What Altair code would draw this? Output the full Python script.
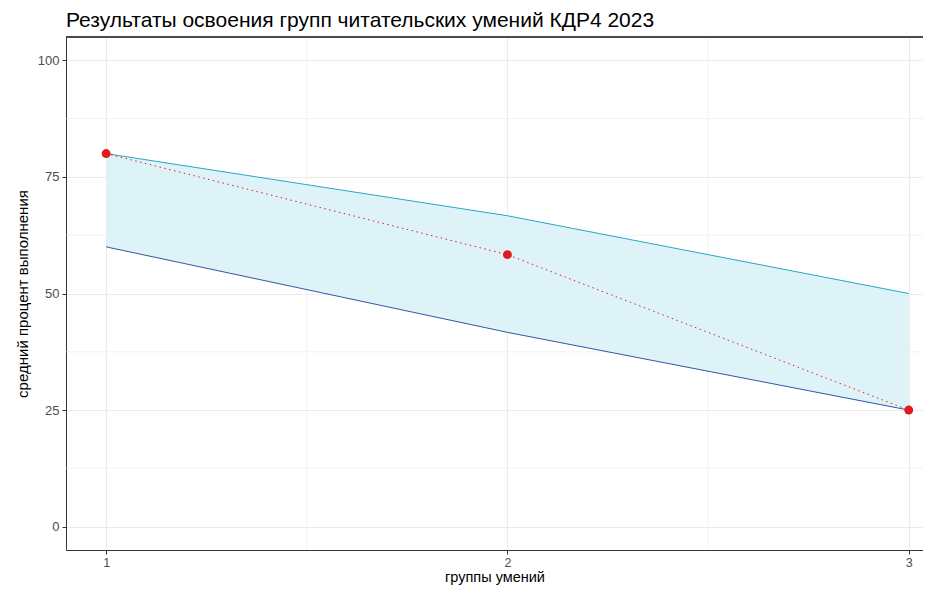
import altair as alt
import pandas as pd

groups = [1, 2, 3]
upper = [80, 66.67, 50]
lower = [60, 41.67, 25]
result = [80, 58.33, 25]

x_minor = [1.5, 2.5]
y_minor = [12.5, 37.5, 62.5, 87.5]

df = pd.DataFrame({"g": groups, "upper": upper, "lower": lower, "res": result})

W = 857
H = 513
xs = alt.Scale(domain=[0.9, 0.9 + W / 401.3], nice=False, zero=False)
ys = alt.Scale(domain=[-5, 105], nice=False, zero=False)

xmin = pd.DataFrame({"v": x_minor})
ymin = pd.DataFrame({"v": y_minor})

grid_x = alt.Chart(xmin).mark_rule(color="#EBEBEB", strokeWidth=0.6).encode(
    x=alt.X("v:Q", scale=xs))
grid_y = alt.Chart(ymin).mark_rule(color="#EBEBEB", strokeWidth=0.6).encode(
    y=alt.Y("v:Q", scale=ys))

base = alt.Chart(df)

band = base.mark_area(color="#DDF3F8", opacity=1).encode(
    x=alt.X("g:Q", scale=xs,
            axis=alt.Axis(values=[1, 2, 3], title="группы умений", format="d",
                          grid=True, gridColor="#EBEBEB", gridWidth=1.1,
                          domainColor="#333333", domainWidth=1,
                          tickColor="#333333", tickSize=4,
                          labelColor="#4D4D4D", labelFontSize=12.5, labelPadding=2,
                          titleFontSize=14.5, titleColor="#000000",
                          titleFontWeight="normal", titlePadding=2)),
    y=alt.Y("lower:Q", scale=ys,
            axis=alt.Axis(values=[0, 25, 50, 75, 100], title="средний процент выполнения",
                          grid=True, gridColor="#EBEBEB", gridWidth=1.1,
                          domainColor="#333333", domainWidth=1,
                          tickColor="#333333", tickSize=4,
                          labelColor="#4D4D4D", labelFontSize=13, labelPadding=3,
                          titleFontSize=15, titleColor="#000000",
                          titleFontWeight="normal", titlePadding=7)),
    y2="upper:Q",
)

upper_line = base.mark_line(color="#2AA6C6", strokeWidth=1).encode(
    x=alt.X("g:Q", scale=xs), y=alt.Y("upper:Q", scale=ys))
lower_line = base.mark_line(color="#3556A3", strokeWidth=1).encode(
    x=alt.X("g:Q", scale=xs), y=alt.Y("lower:Q", scale=ys))
res_line = base.mark_line(color="#E31A1C", strokeWidth=1, strokeDash=[1.5, 3.5]).encode(
    x=alt.X("g:Q", scale=xs), y=alt.Y("res:Q", scale=ys))
res_pts = base.mark_circle(color="#E31A1C", size=80, opacity=1).encode(
    x=alt.X("g:Q", scale=xs), y=alt.Y("res:Q", scale=ys))

top_border = alt.Chart(df).mark_rule(color="#333333", strokeWidth=1).encode(
    x=alt.value(0), x2=alt.value(W), y=alt.value(0))

chart = alt.layer(grid_x, grid_y, band, upper_line, lower_line, res_line, res_pts, top_border).properties(
    width=W, height=H,
    title=alt.TitleParams("Результаты освоения групп читательских умений КДР4 2023",
                          anchor="start", frame="group", fontSize=21, fontWeight="normal",
                          color="#000000", font="Liberation Sans", offset=6),
    autosize=alt.AutoSizeParams(type="none"),
    padding={"left": 58, "top": 29, "right": 0, "bottom": 35},
).configure_view(stroke=None).configure(font="Liberation Sans")

chart.save("out.html", embed_options={"renderer": "svg", "actions": False})
